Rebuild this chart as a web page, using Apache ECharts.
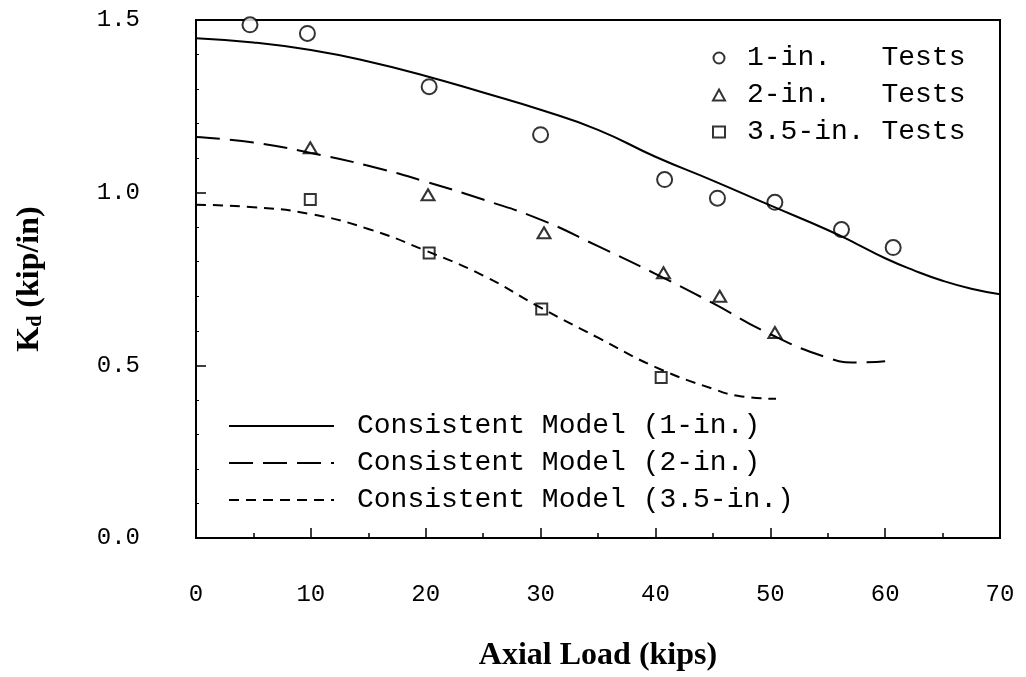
<!DOCTYPE html>
<html>
<head>
<meta charset="utf-8">
<script src="https://cdn.jsdelivr.net/npm/echarts@6/dist/echarts.min.js"></script>
<style>
  html, body { margin: 0; padding: 0; background: #fff; }
  #chart { width: 1026px; height: 677px; }
</style>
</head>
<body>
<div id="chart"></div>
<script>
// test points
const oneInX = [4.7, 9.7, 20.3, 30.0, 40.8, 45.4, 50.4, 56.2, 60.7];
const oneInY = [1.486, 1.461, 1.307, 1.168, 1.038, 0.984, 0.972, 0.893, 0.841];
const twoInX = [9.95, 20.2, 30.3, 40.7, 45.6, 50.4];
const twoInY = [1.13, 0.994, 0.884, 0.768, 0.70, 0.595];
const threeInX = [9.95, 20.3, 30.1, 40.5];
const threeInY = [0.98, 0.825, 0.663, 0.465];

// consistent model curves
const model1X = [0, 5, 10, 15, 20, 25, 30, 35, 40, 45, 50, 55, 57.5, 60, 62.5, 65, 67.5, 70];
const model1Y = [1.447, 1.435, 1.413, 1.38, 1.338, 1.29, 1.24, 1.182, 1.104, 1.035, 0.963, 0.892, 0.852, 0.81, 0.775, 0.745, 0.722, 0.706];
const model2X = [0, 5, 10, 15, 20, 25, 30, 35, 40, 45, 50, 55, 57.5, 60];
const model2Y = [1.161, 1.145, 1.115, 1.078, 1.032, 0.98, 0.922, 0.845, 0.765, 0.68, 0.59, 0.522, 0.508, 0.512];
const model3X = [0, 5, 10, 15, 20, 25, 30, 35, 40, 45, 47.5, 50.5];
const model3Y = [0.965, 0.958, 0.938, 0.895, 0.832, 0.76, 0.667, 0.58, 0.495, 0.432, 0.41, 0.403];

const xTicks = [0, 10, 20, 30, 40, 50, 60, 70];

const pairs = (xs, ys) => xs.map((x, i) => [x, ys[i]]);
const mono = 'Liberation Mono';
const serif = 'Liberation Serif';

const chart = echarts.init(document.getElementById('chart'));

const markerStyle = { color: '#fff', borderColor: '#000', borderWidth: 2 };

chart.setOption({
  animation: false,
  backgroundColor: '#fff',
  grid: {
    left: 196, right: 26, top: 20, bottom: 138,
    show: true, borderColor: '#000', borderWidth: 2, backgroundColor: 'transparent'
  },
  legend: [{
    data: ['1-in.   Tests', '2-in.   Tests', '3.5-in. Tests'],
    orient: 'vertical',
    left: 707, top: 39,
    itemWidth: 12, itemHeight: 11,
    itemGap: 9,
    textStyle: { fontFamily: mono, fontSize: 28, color: '#000', padding: [0, 0, 0, 17] }
  }, {
    data: ['Consistent Model (1-in.)', 'Consistent Model (2-in.)', 'Consistent Model (3.5-in.)'],
    orient: 'vertical',
    left: 223, top: 407,
    itemWidth: 105, itemHeight: 14,
    itemGap: 9,
    itemStyle: { opacity: 0 },
    textStyle: { fontFamily: mono, fontSize: 28, color: '#000', padding: [0, 0, 0, 18] }
  }],
  xAxis: {
    type: 'value',
    min: 0, max: 70, interval: 10,
    name: 'Axial Load (kips)',
    nameLocation: 'middle',
    nameGap: 102,
    nameTextStyle: { fontFamily: serif, fontWeight: 'bold', fontSize: 32, color: '#000' },
    axisLine: { show: true, lineStyle: { color: '#000', width: 2 } },
    axisTick: { show: true, inside: true, length: 10, lineStyle: { color: '#000', width: 1.5 } },
    minorTick: { show: true, splitNumber: 2, length: 5, lineStyle: { color: '#000', width: 1.5 } },
    axisLabel: { margin: 45, fontFamily: mono, fontSize: 24, color: '#000',
      customValues: xTicks },
    splitLine: { show: false }
  },
  yAxis: {
    type: 'value',
    min: 0, max: 1.5, interval: 0.5,
    name: '{k|K}{d|d} (kip/in)',
    nameLocation: 'middle',
    nameRotate: 90,
    nameGap: 150,
    nameTextStyle: {
      fontFamily: serif, fontWeight: 'bold', fontSize: 32, color: '#000',
      rich: {
        k: { fontFamily: serif, fontWeight: 'bold', fontSize: 32, color: '#000' },
        d: { fontFamily: serif, fontWeight: 'bold', fontSize: 20, color: '#000', verticalAlign: 'bottom', padding: [12, 0, 0, 0] }
      }
    },
    axisLine: { show: true, lineStyle: { color: '#000', width: 2 } },
    axisTick: { show: true, inside: true, length: 10, lineStyle: { color: '#000', width: 1.5 } },
    minorTick: { show: true, splitNumber: 5, length: 3, lineStyle: { color: '#000', width: 1 } },
    axisLabel: { margin: 56, fontFamily: mono, fontSize: 24, color: '#000',
      formatter: v => v.toFixed(1) },
    splitLine: { show: false }
  },
  series: [{
    name: 'Consistent Model (1-in.)',
    type: 'line',
    data: pairs(model1X, model1Y),
    smooth: true,
    symbol: 'none',
    lineStyle: { color: '#000', width: 2, type: 'solid' },
    itemStyle: { color: '#000' }
  }, {
    name: 'Consistent Model (2-in.)',
    type: 'line',
    data: pairs(model2X, model2Y),
    smooth: true,
    symbol: 'none',
    lineStyle: { color: '#000', width: 2, type: [24, 10] },
    itemStyle: { color: '#000' }
  }, {
    name: 'Consistent Model (3.5-in.)',
    type: 'line',
    data: pairs(model3X, model3Y),
    smooth: true,
    symbol: 'none',
    lineStyle: { color: '#000', width: 2, type: [10, 7] },
    itemStyle: { color: '#000' }
  }, {
    name: '1-in.   Tests',
    type: 'scatter',
    symbol: 'circle',
    symbolSize: 15,
    data: pairs(oneInX, oneInY),
    itemStyle: markerStyle
  }, {
    name: '2-in.   Tests',
    type: 'scatter',
    symbol: 'triangle',
    symbolSize: [13, 11],
    data: pairs(twoInX, twoInY),
    itemStyle: markerStyle
  }, {
    name: '3.5-in. Tests',
    type: 'scatter',
    symbol: 'rect',
    symbolSize: 11,
    data: pairs(threeInX, threeInY),
    itemStyle: markerStyle
  }]
});
</script>
</body>
</html>
